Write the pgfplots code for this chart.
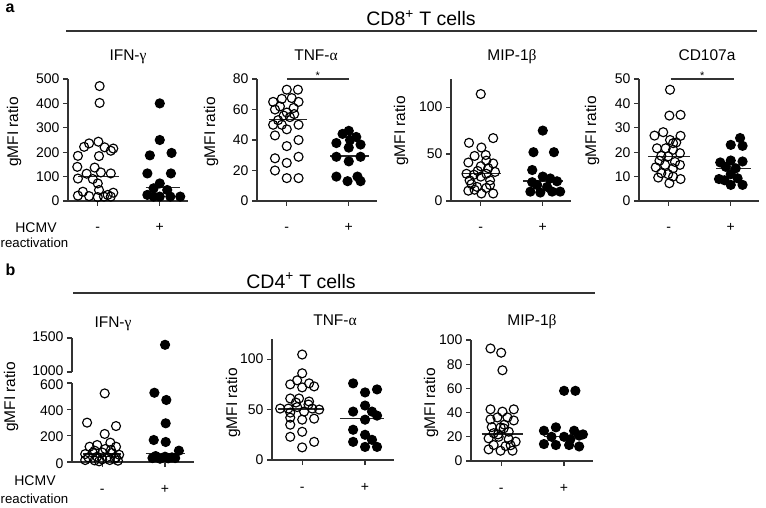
\documentclass[border=0pt]{standalone}
\usepackage{fontspec}
\setmainfont{Liberation Sans}
\newfontfamily\grk{Liberation Serif}
\usepackage{pgfplots}
\pgfplotsset{compat=1.18}
\newcommand\fT{\fontsize{14}{16}\selectfont}
\newcommand\fL{\fontsize{15.5}{18}\selectfont}
\newcommand\fA{\fontsize{15.5}{18}\selectfont}
\newcommand\fH{\fontsize{19.5}{22}\selectfont}
\pgfplotsset{
 gp/.style={
  scale only axis, width=120.3pt, height=122pt,
  anchor=south west,
  axis x line*=bottom, axis y line*=left,
  axis line style={line width=1.2pt, black!80},
  xmin=-0.48, xmax=1.46, ymin=0,
  xtick={0,1}, xticklabels={-,+},
  tick align=outside, major tick length=5pt,
  tick style={line width=1.2pt, black!80},
  tick label style={font=\fT},
  xticklabel style={anchor=base, yshift=-26pt},
  /pgf/number format/assume math mode=true,
  /pgf/number format/1000 sep={},
  clip=false,
 },
 op/.style={only marks, mark=o, mark size=4.5pt, mark options={line width=1.15pt, black}},
 cl/.style={only marks, mark=*, mark size=4.5pt, mark options={line width=1.15pt, black, fill=black}},
 md/.style={black!85, line width=1.3pt, no marks},
 sg/.style={black!80, line width=1.2pt, no marks},
}
\begin{document}
\begin{tikzpicture}[x=1pt,y=1pt]
\useasboundingbox (0,0) rectangle (766,507);
% ---------- panel a ----------
\node[anchor=base west, font=\bfseries\fontsize{16}{19}\selectfont] at (2,494) {a};
\node[anchor=base, font=\fH] at (421,481) {CD8\textsuperscript{+} T cells};
\draw[line width=1.2pt, black!80] (66,476) -- (757,476);
\node[anchor=base, font=\fA] at (128,446) {IFN-{\grk γ}};
\node[anchor=base, font=\fA] at (316,446) {TNF-{\grk α}};
\node[anchor=base, font=\fA] at (512,446) {MIP-1{\grk β}};
\node[anchor=base, font=\fA] at (707,446) {CD107a};
\node[rotate=90, font=\fL] at (14,375) {gMFI ratio};
\node[rotate=90, font=\fL] at (211,375) {gMFI ratio};
\node[rotate=90, font=\fL] at (401,376) {gMFI ratio};
\node[rotate=90, font=\fL] at (592,376) {gMFI ratio};
\node[anchor=base, font=\fT] at (36,275) {HCMV};
\node[anchor=base west, inner sep=0pt, font=\fontsize{13.2}{15}\selectfont] at (0.5,259) {reactivation};

\begin{axis}[gp, at={(68pt,306pt)}, ymax=500, ytick={0,100,...,500}]
\addplot[op] coordinates {(0.03,471)(0.03,402)(0.01,243)(-0.14,236)(-0.22,222)(0.11,220)(0.25,215)(0.21,206)(-0.32,185)(0.02,184)(-0.33,140)(-0.05,137)(0.05,117)(0.21,113)(-0.18,112)(-0.32,92)(-0.08,90)(0.0,72)(0.02,45)(-0.24,38)(0.25,34)(0.16,25)(-0.32,22)(-0.14,20)(0.10,18)(0.21,18)(0.0,16)};
\addplot[cl] coordinates {(1.0,400)(1.0,250)(0.84,187)(1.19,197)(0.8,113)(1.18,113)(1.0,72)(0.9,52)(1.12,45)(0.8,25)(1.0,18)(1.17,18)(0.9,18)(1.33,18)};
\addplot[md] coordinates {(-0.32,100)(0.34,100)};
\addplot[md] coordinates {(0.77,56)(1.32,56)};
\end{axis}

\begin{axis}[gp, at={(257pt,306pt)}, ymax=80, ytick={0,20,...,80}]
\addplot[op] coordinates {(0,73)(0.18,73)(-0.22,65)(-0.08,67)(0.08,67.5)(0.19,65)(-0.19,60)(0,58)(-0.11,62)(0.11,61)(-0.05,56)(0.05,55)(-0.22,50)(-0.08,50)(0.19,50)(0,47)(-0.19,43)(0.19,40)(0,36)(-0.19,28)(0.19,29)(0,25)(-0.19,20)(0,15)(0.19,15)(0.12,57)(-0.14,53)};
\addplot[cl] coordinates {(1,46)(0.9,44)(1.12,42)(0.8,38)(1.02,40)(1.19,37)(1,35)(0.8,29)(1.19,29)(1,26)(0.8,16)(1.14,16)(0.98,13)(1.19,13)};
\addplot[md] coordinates {(-0.28,53.3)(0.32,53.3)};
\addplot[md] coordinates {(0.7,29.6)(1.32,29.6)};
\addplot[sg] coordinates {(0,80)(1,80)};
\node[anchor=base, font=\fontsize{11}{12}\selectfont] at (axis cs:0.5,80) {*};
\end{axis}

\begin{axis}[gp, at={(451pt,306pt)}, ymax=130, ytick={0,50,100}]
\addplot[op] coordinates {(0,114)(-0.19,62)(0.2,67)(0.01,57)(-0.1,48)(0.08,49)(-0.2,41)(0.2,40)(0,37)(0.09,43)(-0.23,29)(-0.11,28)(0.09,29)(0.23,31)(-0.18,22)(0,26)(0.15,22)(-0.2,11)(-0.06,15)(0.09,14)(0.2,8)(0.01,8)(-0.1,12)(0.12,35)(-0.05,32)(0.15,17)(-0.15,18)};
\addplot[cl] coordinates {(1,75)(0.85,52)(1.18,52)(0.83,33)(1,26)(1.12,24)(0.83,20)(1.23,21)(0.91,17)(1.07,15)(0.8,10)(0.96,9)(1.15,10)(1.28,10)};
\addplot[md] coordinates {(-0.31,29.3)(0.33,29.3)};
\addplot[md] coordinates {(0.68,21.2)(1.33,21.2)};
\end{axis}

\begin{axis}[gp, at={(639pt,306pt)}, ymax=50, ytick={0,10,...,50}]
\addplot[op] coordinates {(0.02,45.6)(0.01,35)(0.19,35.3)(-0.23,26.8)(-0.09,28.2)(0.19,26.7)(0.02,25)(0.07,23.7)(-0.19,21.6)(-0.05,21.6)(0.07,21)(0.18,19.6)(-0.12,18.5)(-0.01,18.3)(-0.21,13.8)(-0.06,14.8)(0.18,14.8)(0.07,13.4)(-0.12,11.4)(-0.01,11)(-0.17,9.6)(0.07,10)(0.19,9)(0.01,7.3)(0.1,16)(-0.15,16.5)(0.12,24)};
\addplot[cl] coordinates {(1.15,25.8)(1,23)(1.19,22.6)(0.83,15.8)(1,16.6)(1.19,16.2)(0.92,14)(1.08,13.4)(0.81,9)(1,11)(1.11,9.3)(0.9,8.5)(1,6.6)(1.19,6.6)};
\addplot[md] coordinates {(-0.33,18.2)(0.34,18.2)};
\addplot[md] coordinates {(0.76,13.3)(1.32,13.3)};
\addplot[sg] coordinates {(0.03,50)(1.05,50)};
\node[anchor=base, font=\fontsize{11}{12}\selectfont] at (axis cs:0.54,50) {*};
\end{axis}

% ---------- panel b ----------
\node[anchor=base west, font=\bfseries\fontsize{16}{19}\selectfont] at (2,232) {b};
\node[anchor=base, font=\fH] at (301,219) {CD4\textsuperscript{+} T cells};
\draw[line width=1.2pt, black!80] (73,214) -- (595,214);
\node[anchor=base, font=\fA] at (113,180) {IFN-{\grk γ}};
\node[anchor=base, font=\fA] at (335,182) {TNF-{\grk α}};
\node[anchor=base, font=\fA] at (532,182) {MIP-1{\grk β}};
\node[rotate=90, font=\fL] at (11,110) {gMFI ratio};
\node[rotate=90, font=\fL] at (233,104) {gMFI ratio};
\node[rotate=90, font=\fL] at (431,104) {gMFI ratio};
\node[anchor=base, font=\fT] at (35,22) {HCMV};
\node[anchor=base west, inner sep=0pt, font=\fontsize{13.2}{15}\selectfont] at (0.5,4) {reactivation};

\begin{axis}[gp, at={(72pt,45pt)}, width=122pt, height=79pt, ymax=600, ytick={0,200,400,600}, yticklabel style={inner ysep=0pt, yshift=-1.2pt}]
\addplot[op] coordinates {(0.04,521)(-0.24,299)(0.22,273)(0.04,213)(-0.2,116)(-0.08,129)(0.13,147)(0.22,116)(-0.12,86)(0.05,99)(0.14,92)(-0.27,60)(-0.15,70)(0,72)(0.15,68)(0.27,55)(-0.22,35)(-0.08,40)(0.08,38)(0.22,35)(-0.27,15)(-0.12,12)(0,20)(0.12,15)(0.25,10)(-0.05,5)(0.2,25)};
\addplot[cl] coordinates {(0.83,526)(1.02,471)(1.01,294)(0.82,167)(1.01,152)(1.22,86)(0.8,30)(0.92,25)(1.05,28)(1.16,30)(0.85,45)(1,40)(1.11,35)};
\addplot[md] coordinates {(-0.3,61)(0.3,61)};
\addplot[md] coordinates {(0.69,66)(1.31,66)};
\end{axis}
\begin{axis}[gp, at={(72pt,135pt)}, width=122pt, height=34pt, ymin=1000, ymax=1500, ytick={1000,1500}, axis x line=none, yticklabel style={inner ysep=0pt, yshift=1.5pt}]
\addplot[cl] coordinates {(1,1400)};
\end{axis}

\begin{axis}[gp, at={(272pt,47pt)}, width=122pt, height=121pt, ymax=120, ytick={0,50,100}]
\addplot[op] coordinates {(0,104.6)(0,86)(-0.19,75)(-0.08,79)(0.11,76)(0.19,73)(0,72)(-0.19,61)(-0.05,61)(0.11,58)(-0.35,51)(-0.22,51)(-0.08,52.5)(0.16,51)(0.27,50)(-0.19,47)(0.03,48)(-0.19,42)(0.19,41)(0,40)(-0.19,35)(-0.19,23)(0,28)(0.19,18)(0,12.5)(0.1,55)(-0.1,57)};
\addplot[cl] coordinates {(0.81,76)(1,67)(1.19,70)(1,54)(0.81,48)(1.11,48)(1.19,44)(1,40)(0.81,30)(1,25)(1.11,20)(0.81,18)(1,13)(1.19,13)};
\addplot[md] coordinates {(-0.38,50.5)(0.34,50.5)};
\addplot[md] coordinates {(0.6,41)(1.3,41)};
\end{axis}

\begin{axis}[gp, at={(471pt,46pt)}, width=122pt, height=121pt, ymax=100, ytick={0,20,...,100}]
\addplot[op] coordinates {(-0.17,93)(0,89.5)(0.02,75)(-0.17,42.7)(0.2,42.7)(0.02,40.8)(-0.17,34.4)(-0.06,36)(0.1,36)(0.2,33.5)(-0.01,27.8)(0.04,27)(0.12,24.2)(-0.12,23)(-0.2,18.7)(-0.04,20)(0.12,18)(0.23,16)(-0.12,13.2)(0.07,12.4)(-0.2,9.6)(-0.01,8.5)(0.18,8.5)(-0.05,22)(0.05,30)(-0.15,28)(0.15,13)};
\addplot[cl] coordinates {(1,58)(1.18,58)(0.87,27.8)(0.68,25)(1.16,25)(0.8,20)(1,20)(1.24,21)(1.3,22)(0.68,14)(0.87,13.2)(1.08,13.2)(1.24,12)(1.1,18)};
\addplot[md] coordinates {(-0.31,22.3)(0.34,22.3)};
\addplot[md] coordinates {(0.68,20)(1.36,20)};
\end{axis}
\end{tikzpicture}
\end{document}
